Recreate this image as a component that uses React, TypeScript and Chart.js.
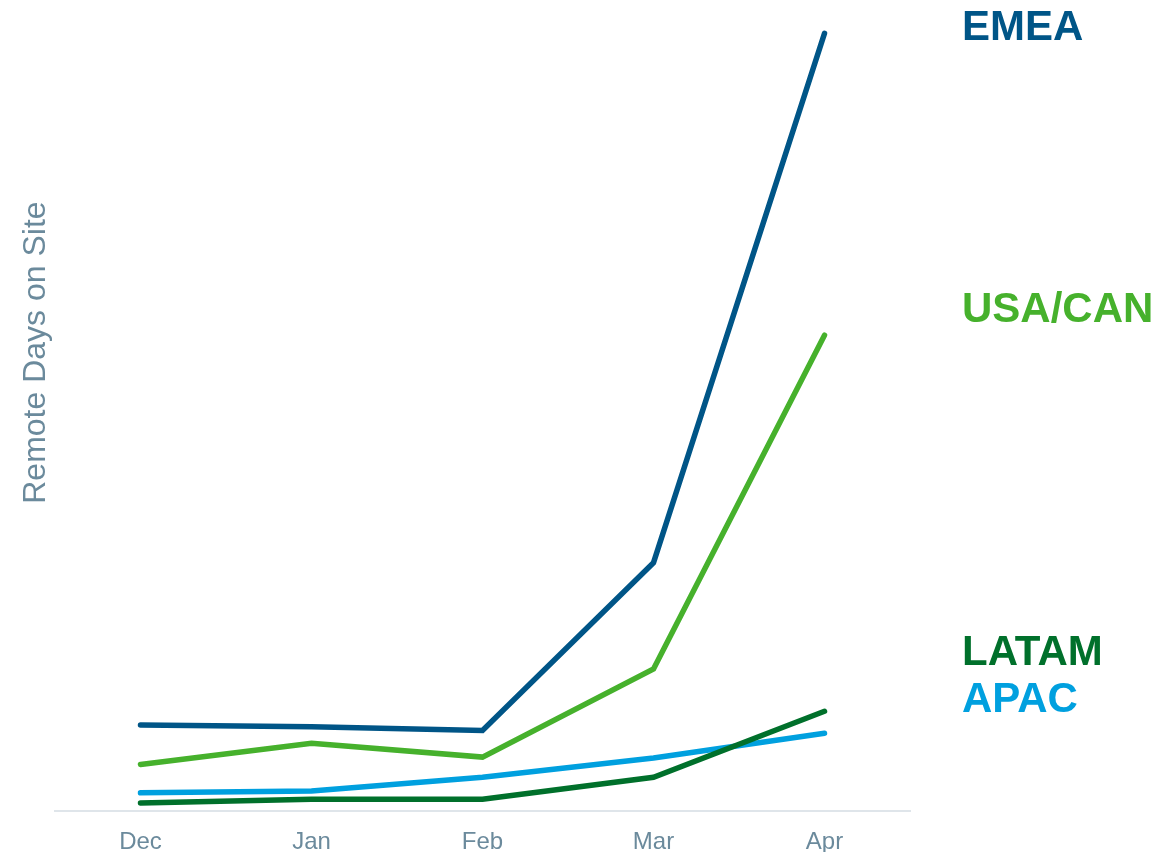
import React, { useEffect, useRef } from "react";
import { Chart, registerables } from "chart.js";

Chart.register(...registerables);

const categories = ["Dec", "Jan", "Feb", "Mar", "Apr"];
const emea = [9.4, 9.2, 8.8, 27.1, 84.8];
const usaCan = [5.1, 7.4, 5.9, 15.5, 51.9];
const apac = [2.0, 2.2, 3.7, 5.8, 8.5];
const latam = [0.9, 1.3, 1.3, 3.7, 10.9];
const yMax = 100;

const COLORS = {
  emea: "#005587",
  usaCan: "#46b12c",
  latam: "#00702b",
  apac: "#00a0df",
  text: "#6b8a9c",
  axis: "#dfe5ea",
};

const labels = [
  { text: "EMEA", color: COLORS.emea, top: 4.5 },
  { text: "USA/CAN", color: COLORS.usaCan, top: 286.5 },
  { text: "LATAM", color: COLORS.latam, top: 629.5 },
  { text: "APAC", color: COLORS.apac, top: 677 },
];

export default function App() {
  const ref = useRef<HTMLCanvasElement | null>(null);

  useEffect(() => {
    if (!ref.current) return;
    const mk = (label: string, data: number[], color: string) => ({
      label,
      data,
      borderColor: color,
      backgroundColor: color,
      borderWidth: 5.5,
      borderCapStyle: "round" as const,
      borderJoinStyle: "miter" as const,
      pointRadius: 0,
      tension: 0,
      fill: false,
    });
    const chart = new Chart(ref.current, {
      type: "line",
      data: {
        labels: categories,
        datasets: [
          mk("LATAM", latam, COLORS.latam),
          mk("APAC", apac, COLORS.apac),
          mk("USA/CAN", usaCan, COLORS.usaCan),
          mk("EMEA", emea, COLORS.emea),
        ],
      },
      options: {
        animation: false,
        responsive: false,
        maintainAspectRatio: false,
        layout: { padding: { left: 0, right: 266, top: 0, bottom: 0 } },
        plugins: { legend: { display: false }, tooltip: { enabled: false }, title: { display: false } },
        scales: {
          x: {
            offset: true,
            grid: { display: false, drawTicks: false },
            border: { display: true, color: COLORS.axis, width: 2 },
            ticks: {
              color: COLORS.text,
              padding: 17,
              font: { family: "'Liberation Sans', Arial, sans-serif", size: 24 },
            },
          },
          y: {
            min: 0,
            max: yMax,
            grid: { display: false, drawTicks: false },
            border: { display: false },
            ticks: { display: false },
            title: {
              display: true,
              text: "Remote Days on Site",
              color: COLORS.text,
              padding: { top: 17, bottom: 0 },
              font: { family: "'Liberation Sans', Arial, sans-serif", size: 32 },
            },
            afterFit: (scale: any) => {
              scale.width = 55;
            },
          },
        },
      },
    });
    return () => chart.destroy();
  }, []);

  return (
    <div
      style={{
        position: "absolute",
        left: 0,
        top: 0,
        width: 1176,
        height: 852,
        overflow: "hidden",
        background: "#ffffff",
      }}
    >
      <canvas
        ref={ref}
        width={1176}
        height={980}
        style={{ position: "absolute", left: 0, top: -106, width: 1176, height: 980 }}
      />
      {labels.map((l) => (
        <div
          key={l.text}
          style={{
            position: "absolute",
            left: 962,
            top: l.top,
            fontFamily: "'Liberation Sans', Arial, sans-serif",
            fontWeight: 700,
            fontSize: 42,
            lineHeight: "42px",
            color: l.color,
            whiteSpace: "nowrap",
          }}
        >
          {l.text}
        </div>
      ))}
    </div>
  );
}
